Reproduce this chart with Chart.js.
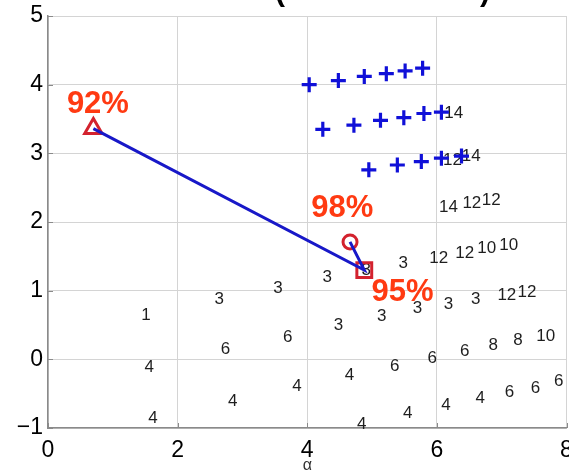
<!DOCTYPE html>
<html>
<head>
<meta charset="utf-8">
<script src="https://cdn.jsdelivr.net/npm/chart.js@4.4.1/dist/chart.umd.min.js"></script>
<style>
  html, body { margin: 0; padding: 0; background: #fff; overflow: hidden; }
  #wrap { width: 569px; height: 476px; overflow: hidden; position: relative; }
  #c { position: absolute; left: 0; top: 0; }
</style>
</head>
<body>
<div id="wrap"><canvas id="c" width="580" height="476"></canvas></div>
<script>
// Axis ticks
const xTicks = [0, 2, 4, 6, 8];
const yTicks = [-1, 0, 1, 2, 3, 4, 5];

// Blue "+" grid points
const plusX = [4.03, 4.48, 4.88, 5.22, 5.51, 5.78,
               4.24, 4.72, 5.13, 5.49, 5.80, 6.07,
               4.95, 5.39, 5.76, 6.07, 6.38];
const plusY = [4.00, 4.06, 4.12, 4.16, 4.20, 4.24,
               3.35, 3.41, 3.48, 3.52, 3.58, 3.60,
               2.76, 2.83, 2.88, 2.93, 2.96];

// Numeric labels at the remaining grid points
const gridX = [1.51, 1.56, 1.62, 2.64, 2.74, 2.85, 3.55, 3.70, 3.84,
               4.31, 4.48, 4.65, 4.84, 4.91, 5.15, 5.35, 5.55, 5.48,
               5.70, 5.93, 6.14, 6.03, 6.18, 6.18, 6.43, 6.43, 6.54,
               6.60, 6.67, 6.77, 6.84, 6.87, 7.08, 7.11, 7.12, 7.25,
               7.39, 7.52, 7.68, 7.88, 6.26, 6.24, 6.53];
const gridY = [0.64, -0.11, -0.86, 0.87, 0.15, -0.61, 1.03, 0.32, -0.39,
               1.19, 0.49, -0.23, -0.94, 1.30, 0.62, -0.10, -0.79, 1.40,
               0.74, 0.01, -0.67, 1.47, 2.22, 0.80, 1.54, 0.12, 2.27,
               0.88, -0.57, 1.61, 2.31, 0.20, 0.93, 1.66, -0.48, 0.27,
               0.98, -0.42, 0.33, -0.32, 3.58, 2.90, 2.96];
const gridText = ['1', '4', '4', '3', '6', '4', '3', '6', '4',
                  '3', '3', '4', '4', '3', '3', '6', '4', '3',
                  '3', '6', '4', '12', '14', '3', '12', '6', '12',
                  '3', '4', '10', '12', '8', '12', '10', '6', '8',
                  '12', '6', '10', '6', '14', '12', '14'];

// Search path: start (triangle) -> square -> circle
const pathX = [0.70, 4.88, 4.66];
const pathY = [3.36, 1.30, 1.71];

// Accuracy annotations
const accText = ['92%', '98%', '95%'];
const accX = [0.77, 4.54, 5.47];
const accY = [3.71, 2.20, 0.98];

const FONT = "'Liberation Sans', Arial, Helvetica, sans-serif";
const RED = '#d3222e';
const BLUE = '#1010d8';

const pts = (xs, ys) => xs.map((x, i) => ({ x: x, y: ys[i] }));

const textLayer = {
  id: 'textLayer',
  beforeDatasetsDraw(chart) {
    const { ctx, scales: { x, y } } = chart;
    ctx.save();
    ctx.font = '17px ' + FONT;
    ctx.fillStyle = '#1e1e1e';
    ctx.textAlign = 'center';
    ctx.textBaseline = 'middle';
    gridText.forEach((t, i) => {
      ctx.fillText(t, x.getPixelForValue(gridX[i]), y.getPixelForValue(gridY[i]));
    });
    ctx.restore();
  },
  afterDatasetsDraw(chart) {
    const { ctx, scales: { x, y } } = chart;
    ctx.save();
    ctx.font = 'bold 31px ' + FONT;
    ctx.fillStyle = '#ff3a12';
    ctx.textAlign = 'center';
    ctx.textBaseline = 'middle';
    accText.forEach((t, i) => {
      ctx.fillText(t, x.getPixelForValue(accX[i]), y.getPixelForValue(accY[i]));
    });
    ctx.restore();
  }
};

// Short inward tick marks along the left and bottom axes
const innerTicks = {
  id: 'innerTicks',
  afterDraw(chart) {
    const { ctx, chartArea: a, scales: { x, y } } = chart;
    ctx.save();
    ctx.strokeStyle = '#8a8a8a';
    ctx.lineWidth = 1;
    ctx.beginPath();
    xTicks.forEach(v => {
      const px = Math.round(x.getPixelForValue(v)) + 0.5;
      ctx.moveTo(px, a.bottom); ctx.lineTo(px, a.bottom - 5);
    });
    yTicks.forEach(v => {
      const py = Math.round(y.getPixelForValue(v)) + 0.5;
      ctx.moveTo(a.left, py); ctx.lineTo(a.left + 5, py);
    });
    ctx.stroke();
    ctx.restore();
  }
};

// Heading brackets sitting at the very top edge
const heading = {
  id: 'heading',
  afterDraw(chart) {
    const { ctx } = chart;
    ctx.save();
    ctx.font = 'bold 30px ' + FONT;
    ctx.fillStyle = '#000';
    ctx.textBaseline = 'alphabetic';
    ctx.textAlign = 'left';
    ctx.fillText('(', 275, 1);
    ctx.textAlign = 'right';
    ctx.fillText(')', 490, 1);
    ctx.restore();
  }
};

new Chart(document.getElementById('c'), {
  type: 'scatter',
  data: {
    datasets: [
      {
        data: pts(plusX, plusY),
        pointStyle: 'cross',
        pointRadius: 7.5,
        pointBorderWidth: 3.2,
        borderColor: BLUE,
        backgroundColor: BLUE
      },
      {
        data: pts(pathX, pathY),
        showLine: true,
        borderColor: '#1818c8',
        borderWidth: 3,
        pointRadius: 0
      },
      {
        data: pts(pathX.slice(0, 1), pathY.slice(0, 1)),
        pointStyle: 'triangle',
        pointRadius: 10,
        pointBorderWidth: 3,
        borderColor: RED,
        backgroundColor: 'rgba(0,0,0,0)'
      },
      {
        data: pts(pathX.slice(1, 2), pathY.slice(1, 2)),
        pointStyle: 'rect',
        pointRadius: 10.5,
        pointBorderWidth: 3,
        borderColor: RED,
        backgroundColor: 'rgba(0,0,0,0)'
      },
      {
        data: pts(pathX.slice(2, 3), pathY.slice(2, 3)),
        pointStyle: 'circle',
        pointRadius: 7,
        pointBorderWidth: 3,
        borderColor: RED,
        backgroundColor: 'rgba(0,0,0,0)'
      }
    ]
  },
  options: {
    responsive: false,
    animation: false,
    devicePixelRatio: 1,
    layout: { padding: { top: 16, right: 1, left: 0, bottom: 0 } },
    plugins: { legend: { display: false }, tooltip: { enabled: false } },
    elements: { point: { hoverRadius: 0 } },
    scales: {
      x: {
        type: 'linear',
        min: 0, max: 8,
        afterBuildTicks(s) { s.ticks = xTicks.map(v => ({ value: v })); },
        afterFit(s) { s.height = 48; s.paddingLeft = 0; s.paddingRight = 0; },
        grid: { color: '#d4d4d4', borderDash: [2, 2], drawTicks: false, lineWidth: 1 },
        border: { display: true, color: '#8a8a8a', width: 1.5 },
        ticks: {
          padding: 9,
          color: '#000',
          font: { size: 23, family: FONT },
          callback: v => String(v).replace('-', '\u2212')
        },
        title: {
          display: true,
          text: 'α',
          color: '#333',
          font: { size: 16, family: FONT },
          padding: { top: 0, bottom: 1 }
        }
      },
      y: {
        type: 'linear',
        min: -1, max: 5,
        afterBuildTicks(s) { s.ticks = yTicks.map(v => ({ value: v })); },
        afterFit(s) { s.width = 48; s.paddingTop = 0; s.paddingBottom = 0; },
        grid: { color: '#d4d4d4', borderDash: [2, 2], drawTicks: false, lineWidth: 1 },
        border: { display: true, color: '#8a8a8a', width: 1.5 },
        ticks: {
          padding: 5,
          color: '#000',
          font: { size: 23, family: FONT },
          callback: v => String(v).replace('-', '\u2212')
        }
      }
    }
  },
  plugins: [textLayer, innerTicks, heading]
});
</script>
</body>
</html>
